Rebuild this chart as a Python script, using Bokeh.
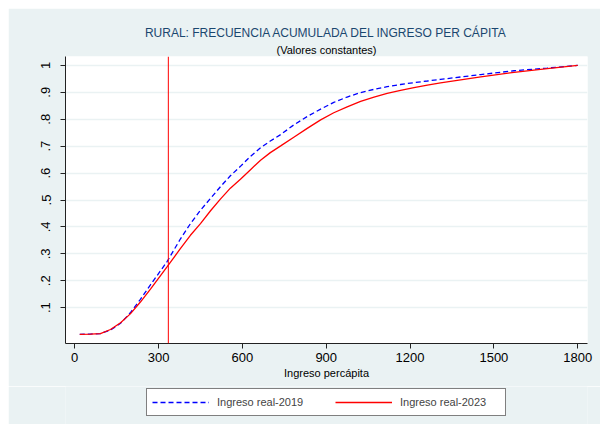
from bokeh.plotting import figure
from bokeh.layouts import column
from bokeh.models import Span, Title, Legend, LegendItem, FixedTicker, CustomJSTickFormatter
from bokeh.embed import file_html
from bokeh.resources import INLINE

# ---- data ----
income_2019 = [18, 56, 92, 128, 164, 199, 235, 271, 307, 331, 378, 414, 450, 486, 522, 557, 593, 629,
               665, 700, 737, 784, 832, 880, 927, 975, 1023, 1071, 1118, 1166, 1214, 1262, 1309,
               1453, 1572, 1691, 1800]
cdf_2019 = [0.001, 0.002, 0.004, 0.017, 0.042, 0.081, 0.131, 0.185, 0.237, 0.272, 0.355, 0.412,
            0.462, 0.506, 0.550, 0.590, 0.625, 0.662, 0.694, 0.719, 0.743, 0.779, 0.810, 0.8375,
            0.8625, 0.8825, 0.899, 0.911, 0.921, 0.929, 0.936, 0.942, 0.948, 0.966, 0.980, 0.990, 1.0]

income_2023 = [18, 56, 92, 128, 164, 199, 235, 271, 307, 331, 378, 414, 450, 486, 522, 557, 593, 629,
               665, 700, 737, 784, 832, 880, 927, 975, 1023, 1071, 1118, 1166, 1214, 1262, 1309,
               1453, 1572, 1691, 1800]
cdf_2023 = [0.001, 0.002, 0.004, 0.019, 0.044, 0.077, 0.121, 0.169, 0.219, 0.2525, 0.319, 0.369,
            0.4125, 0.460, 0.504, 0.544, 0.577, 0.6125, 0.648, 0.676, 0.701, 0.733, 0.766, 0.7975,
            0.824, 0.846, 0.866, 0.882, 0.896, 0.907, 0.917, 0.927, 0.935, 0.957, 0.974, 0.988, 1.0]

poverty_line = 335

x_ticks = [0, 300, 600, 900, 1200, 1500, 1800]
y_ticks = [0.1, 0.2, 0.3, 0.4, 0.5, 0.6, 0.7, 0.8, 0.9, 1.0]
y_tick_labels = [".1", ".2", ".3", ".4", ".5", ".6", ".7", ".8", ".9", "1"]

title_text = "RURAL: FRECUENCIA ACUMULADA DEL INGRESO PER CÁPITA"
subtitle_text = "(Valores constantes)"
x_label = "Ingreso percápita"
series_names = ["Ingreso real-2019", "Ingreso real-2023"]

FONT = "Liberation Sans"
BG = "#EAF2F3"

# ---- main chart ----
p = figure(width=592, height=378, x_range=(-33, 1835), y_range=(-0.033, 1.033),
           output_backend="svg", toolbar_location=None,
           background_fill_color="white", border_fill_color=BG,
           outline_line_color=None,
           min_border_left=57, min_border_right=13, min_border_top=48, min_border_bottom=43)

p.add_layout(Title(text=subtitle_text, align="center", text_font=FONT, text_font_size="11px",
                   text_font_style="normal", text_color="black", standoff=2), "above")
p.add_layout(Title(text=title_text, align="center", text_font=FONT, text_font_size="12px",
                   text_font_style="normal", text_color="#1A476F", standoff=2), "above")

p.line(income_2019, cdf_2019, line_color="#0000FF", line_width=1.3, line_dash="5 3")
p.line(income_2023, cdf_2023, line_color="#FF0000", line_width=1.3)

p.add_layout(Span(location=poverty_line, dimension="height", line_color="#FF0000", line_width=1))

p.xaxis.ticker = FixedTicker(ticks=x_ticks)
p.yaxis.ticker = FixedTicker(ticks=y_ticks)
p.yaxis.formatter = CustomJSTickFormatter(
    args=dict(yvals=y_ticks, ylabs=y_tick_labels),
    code="""
    for (let i = 0; i < yvals.length; i++) {
        if (Math.abs(yvals[i] - tick) < 1e-9) { return ylabs[i]; }
    }
    return "";
    """)
p.yaxis.major_label_orientation = "vertical"
for ax in (p.xaxis[0], p.yaxis[0]):
    ax.axis_line_color = "#222222"
    ax.major_tick_line_color = "#222222"
    ax.major_tick_out = 5
    ax.major_tick_in = 0
    ax.minor_tick_line_color = None
    ax.major_label_text_font = FONT
    ax.major_label_text_font_size = "13px"
    ax.major_label_text_color = "black"
    ax.major_label_standoff = 4
p.yaxis.major_label_standoff = 10
p.xaxis.axis_label = x_label
p.xaxis.axis_label_text_font = FONT
p.xaxis.axis_label_text_font_size = "11px"
p.xaxis.axis_label_text_font_style = "normal"
p.xaxis.axis_label_text_color = "black"
p.xaxis.axis_label_standoff = 2

p.xgrid.grid_line_color = None
p.ygrid.grid_line_color = BG
p.ygrid.grid_line_width = 1.5

# ---- legend strip below the chart (series drawn off-view, only their legend shows) ----
lf = figure(width=592, height=38, x_range=(5000, 6000), y_range=(5, 6),
            output_backend="svg", toolbar_location=None,
            x_axis_location=None, y_axis_location=None,
            background_fill_color=BG, border_fill_color=BG, outline_line_color=None,
            min_border_left=0, min_border_right=0, min_border_top=0, min_border_bottom=0)
lf.xgrid.grid_line_color = None
lf.ygrid.grid_line_color = None
l1 = lf.line(income_2019, cdf_2019, line_color="#0000FF", line_width=1.3, line_dash="5 3")
l2 = lf.line(income_2023, cdf_2023, line_color="#FF0000", line_width=1.3)

legend = Legend(items=[LegendItem(label=series_names[0], renderers=[l1]),
                       LegendItem(label=series_names[1], renderers=[l2])],
                orientation="horizontal", location=(81, 8),
                border_line_color="black", border_line_width=1,
                background_fill_color="white", background_fill_alpha=1,
                label_text_font=FONT, label_text_font_size="11px",
                glyph_width=57, glyph_height=16, label_width=100, label_standoff=8,
                spacing=18, padding=5, margin=0)
lf.add_layout(legend, "center")

layout = column(p, lf, spacing=0)
layout.margin = (8, 0, 0, 8)

open("out.html", "w").write(file_html(layout, INLINE))
